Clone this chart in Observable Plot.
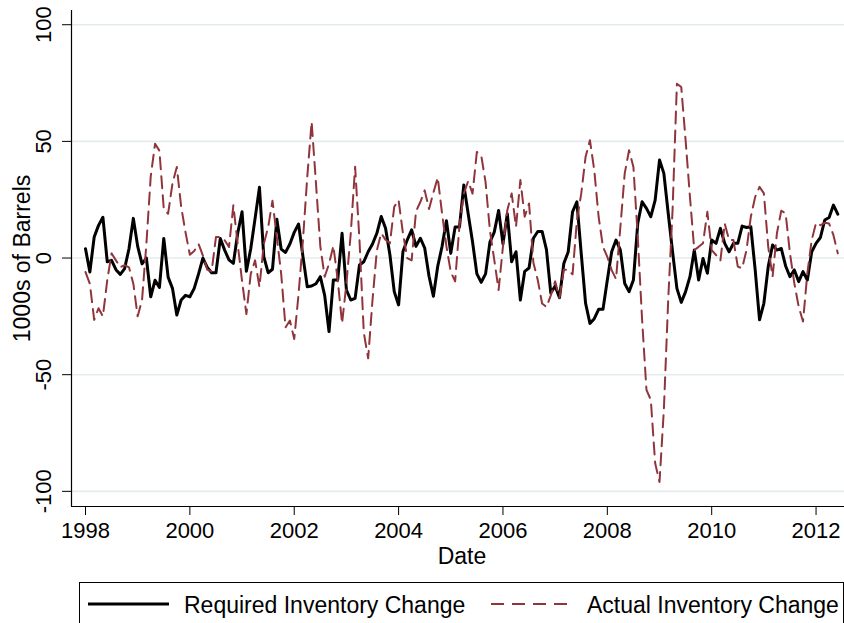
<!DOCTYPE html>
<html>
<head>
<meta charset="utf-8">
<script src="https://cdn.jsdelivr.net/npm/d3@7"></script>
<script src="https://cdn.jsdelivr.net/npm/@observablehq/plot@0.6"></script>
<style>
  body { margin: 0; background: #fff; overflow: hidden; font-family: "Liberation Sans", Arial, Helvetica, sans-serif; }
  #wrap { position: relative; width: 844px; height: 623px; overflow: hidden; }
  #legend { position: absolute; left: 0; top: 575px; }
</style>
</head>
<body>
<div id="wrap">
  <div id="chart"></div>
  <svg id="legend" width="844" height="48"></svg>
</div>
<script>
// ---- data (monthly, starting January 1998) ----
const startYear = 1998;
const seriesNames = ["Required Inventory Change", "Actual Inventory Change"];

const requiredChange = [
  // 1998
  4, -6, 9, 14, 17.5, -1.6, -1, -5, -7, -4.5, 4, 17,
  // 1999
  5, -2.5, 0, -16.6, -9.5, -12.6, 8.4, -8.2, -13, -24.4, -18, -16,
  // 2000
  -16.6, -13, -6.8, 0, -4, -6.3, -6.3, 8.4, 3.4, -0.8, -2.3, 10.6,
  // 2001
  19.8, -5.7, 4, 17, 30.3, 0.6, -6.3, -4.8, 16.6, 3.8, 2.4, 6,
  // 2002
  11, 14.6, 0.7, -12.3, -12, -11, -8, -16, -31.5, -9.4, -9.4, 10.6,
  // 2003
  -13.7, -18, -17.3, -3, -1.6, 2.7, 6, 10.6, 17.8, 12.8, 1.4, -14.4,
  // 2004
  -20.1, 2.8, 7.8, 12.1, 5, 8.5, 4.3, -7.8, -16.4, -3.5, 5, 16,
  // 2005
  2, 13.3, 13.3, 31.3, 19, 7, -6.8, -10.4, -6.8, 6.8, 11.1, 20.4,
  // 2006
  6.1, 19, -1.6, 2.7, -18, -5.7, -4.3, 8.5, 11.4, 11.4, 3.6, -15,
  // 2007
  -12, -17, -2.3, 2.6, 19.8, 24.1, 1.9, -19.4, -28, -26, -22, -22,
  // 2008
  -9.4, 2.7, 7.7, 3.4, -10.9, -14.4, -9.4, 14.9, 24.1, 21.3, 17.7, 24.8,
  // 2009
  42, 36.3, 19.2, 2.7, -13, -19, -14.4, -8, 3.4, -9.4, -0.2, -6.5,
  // 2010
  7.7, 6.3, 12.7, 6.3, 2.7, 6.3, 6.3, 13.7, 13.1, 13.4, -5.1, -26.5,
  // 2011
  -19.4, -3.7, 5.6, 3.4, 4.1, -3.4, -8, -5.1, -10.1, -5.8, -9.4, 2.7,
  // 2012
  6.3, 8.8, 16.3, 17.4, 22.7, 18.8
];

const actualChange = [
  // 1998
  -6, -11, -26.5, -21.5, -25, -9.5, 2, -1, -4, -3, -4, -11,
  // 1999
  -25, -18, 6, 35, 49, 46, 21, 19, 32, 39, 22, 11,
  // 2000
  1.4, 3, 6, 1, -5, -5.8, 9, 9, 7.6, 4.7, 22.6, 6,
  // 2001
  -9.8, -24, -6.8, -1, -12.4, 6, 13.2, 24.6, 8.9, -6.8, -29.7, -26.8,
  // 2002
  -34.7, -15.4, 7.6, 34.8, 58.4, 32, 5, -8, -2.5, 5.2, -9.4, -28,
  // 2003
  -11, 10.6, 39.1, 7.8, -32, -43, -18, 3.3, 10.6, 7.8, 6.3, 22,
  // 2004
  24.8, 10.6, 0, -1, 20, 24, 29, 21, 28, 34.5, 19, 5,
  // 2005
  -6, -10, 14, 27.6, 33, 27.6, 45.5, 44, 32.5, 11.8, -0.8, -13.7,
  // 2006
  5, 20.5, 27.7, 13.4, 33.4, 17.7, 23.4, -2, -9.4, -19.5, -21, -16,
  // 2007
  -10, -17, -5, -5, -7, 16, 27.6, 43.4, 50.5, 37.6, 17.6, 4.8,
  // 2008
  0.5, -5.2, -9, 13.3, 36.3, 46.2, 39, 9, -26.6, -56.5, -60.8, -88,
  // 2009
  -96, -65, -18, 20.5, 74.7, 73.3, 50.5, 26.2, 3.4, 4.8, 6.3, 19.8,
  // 2010
  3.4, 1.3, -1.1, 14.8, 7.7, 7.7, -3.7, -4.4, 3.4, 17.7, 26.2, 30.5,
  // 2011
  27.7, 4.8, -8, 10.6, 20.3, 19.1, 2, -10.8, -20.8, -27.2, -6.5, 7.7,
  // 2012
  15.1, 14.1, 15.1, 14.8, 9.8, 2
];

const xTicks = [1998, 2000, 2002, 2004, 2006, 2008, 2010, 2012];
const yTicks = [-100, -50, 0, 50, 100];
const xLabel = "Date";
const yLabel = "1000s of Barrels";

// ---- build tables ----
const requiredRows = requiredChange.map((v, i) => ({date: startYear + i / 12, value: v}));
const actualRows = actualChange.map((v, i) => ({date: startYear + i / 12, value: v}));

const xDomain = [1997.7317, 2012.545];
const yDomain = [-106.5, 106.1];
const fontFamily = '"Liberation Sans", Arial, Helvetica, sans-serif';
const red = "#90353b";

const chart = Plot.plot({
  width: 844,
  height: 575,
  marginLeft: 71,
  marginRight: 0,
  marginTop: 10,
  marginBottom: 69,
  style: {fontFamily, fontSize: "22px", color: "#000", background: "#fff", overflow: "visible"},
  x: {domain: xDomain},
  y: {domain: yDomain},
  marks: [
    Plot.ruleY(yTicks, {stroke: "#e4ebee", strokeWidth: 1.6}),
    Plot.lineY(requiredRows, {x: "date", y: "value", stroke: "#000", strokeWidth: 3, strokeLinejoin: "round"}),
    Plot.lineY(actualRows, {x: "date", y: "value", stroke: red, strokeWidth: 2, strokeDasharray: "12,7"}),
    Plot.ruleX([xDomain[0]], {stroke: "#000", strokeWidth: 1.2}),
    Plot.ruleY([yDomain[0]], {stroke: "#000", strokeWidth: 1.2}),
    Plot.axisX({ticks: xTicks, tickSize: 9, tickPadding: 7, tickFormat: d => String(d), label: null, fontSize: 22}),
    Plot.axisY({ticks: yTicks, tickSize: 9, tickPadding: 12, tickRotate: -90, tickFormat: d => String(d), label: null, fontSize: 22}),
    Plot.text([xLabel], {frameAnchor: "bottom", dy: 57, dx: 4, text: d => d, fontSize: 23}),
    Plot.text([yLabel], {frameAnchor: "left", dx: -49, rotate: -90, textAnchor: "middle", text: d => d, fontSize: 23})
  ]
});
document.getElementById("chart").appendChild(chart);

// ---- legend ----
const lg = d3.select("#legend");
lg.append("rect").attr("x", 79.5).attr("y", 7.5).attr("width", 764).attr("height", 70)
  .attr("fill", "none").attr("stroke", "#000").attr("stroke-width", 1);
const items = [
  {name: seriesNames[0], x: 88, stroke: "#000", width: 3, dash: null},
  {name: seriesNames[1], x: 491, stroke: red, width: 2, dash: "13,8"}
];
items.forEach(it => {
  const line = lg.append("line").attr("x1", it.x).attr("x2", it.x + 81).attr("y1", 29).attr("y2", 29)
    .attr("stroke", it.stroke).attr("stroke-width", it.width);
  if (it.dash) line.attr("stroke-dasharray", it.dash);
  lg.append("text").attr("x", it.x + 96).attr("y", 37.5).attr("font-size", 23)
    .attr("font-family", fontFamily).attr("fill", "#000").text(it.name);
});
</script>
</body>
</html>
